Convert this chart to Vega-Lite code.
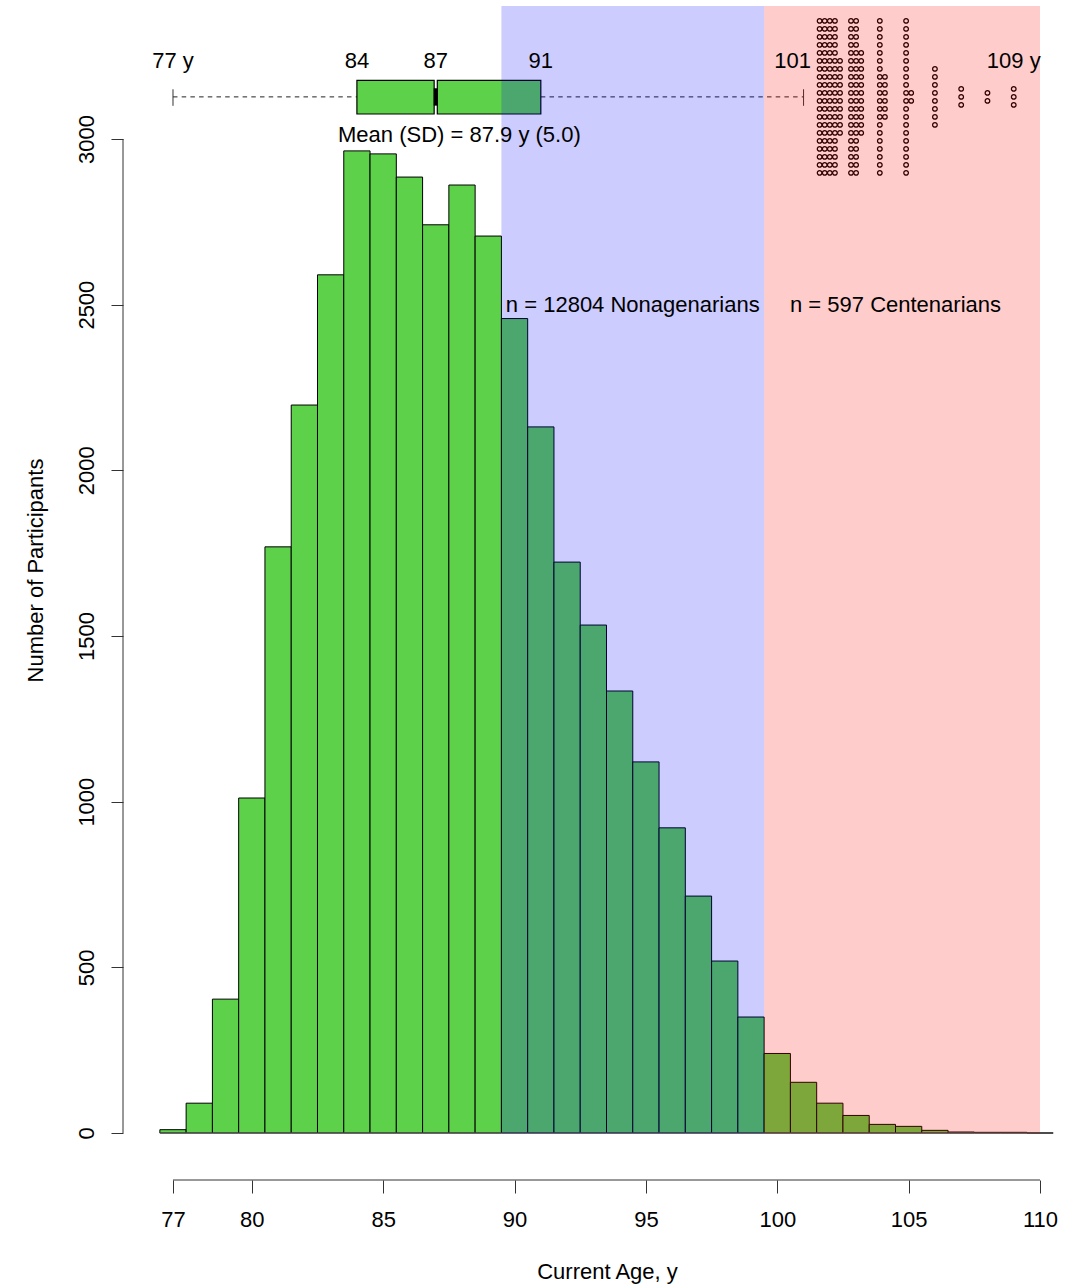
{
  "$schema": "https://vega.github.io/schema/vega-lite/v6.json",
  "width": 937,
  "height": 1174,
  "autosize": {"type": "none"},
  "padding": {"left": 123, "top": 6, "right": 16, "bottom": 105},
  "background": "white",
  "config": {
    "view": {"stroke": null},
    "font": "Liberation Sans",
    "axis": {
      "grid": false,
      "domain": false,
      "labelFont": "Liberation Sans",
      "titleFont": "Liberation Sans",
      "labelFontSize": 22,
      "titleFontSize": 22,
      "titleFontWeight": "normal",
      "labelColor": "#000",
      "titleColor": "#000",
      "tickColor": "#333",
      "tickWidth": 1,
      "labelFlush": false,
      "labelOverlap": false
    },
    "text": {"font": "Liberation Sans", "fontSize": 22, "color": "#000"}
  },
  "datasets": {
    "ages": [
      {"age": 77, "n": 10}, {"age": 78, "n": 90}, {"age": 79, "n": 404},
      {"age": 80, "n": 1011}, {"age": 81, "n": 1769}, {"age": 82, "n": 2197},
      {"age": 83, "n": 2590}, {"age": 84, "n": 2964}, {"age": 85, "n": 2955},
      {"age": 86, "n": 2885}, {"age": 87, "n": 2741}, {"age": 88, "n": 2861},
      {"age": 89, "n": 2707}, {"age": 90, "n": 2458}, {"age": 91, "n": 2131},
      {"age": 92, "n": 1723}, {"age": 93, "n": 1533}, {"age": 94, "n": 1334},
      {"age": 95, "n": 1120}, {"age": 96, "n": 921}, {"age": 97, "n": 715},
      {"age": 98, "n": 519}, {"age": 99, "n": 350}, {"age": 100, "n": 240},
      {"age": 101, "n": 153}, {"age": 102, "n": 90}, {"age": 103, "n": 53},
      {"age": 104, "n": 26}, {"age": 105, "n": 20}, {"age": 106, "n": 8},
      {"age": 107, "n": 3}, {"age": 108, "n": 2}, {"age": 109, "n": 2},
      {"age": 110, "n": 0}
    ],
    "stats": [
      {"min": 77, "q1": 84, "median": 87, "q3": 91, "max": 101, "conf_lo": 86.94, "conf_hi": 87.06, "mean": 87.9, "sd": 5.0}
    ],
    "groups": [
      {"group": "Nonagenarians", "from": 89.5, "to": 99.5, "n": 12804},
      {"group": "Centenarians", "from": 99.5, "to": 110, "n": 597}
    ],
    "labels": [
      {"at": 77, "label": "77 y"}, {"at": 84, "label": "84"}, {"at": 87, "label": "87"},
      {"at": 91, "label": "91"}, {"at": 101, "label": "101"}, {"at": 109, "label": "109 y"}
    ],
    "outliers": [
      {"age": 102, "j": -9.5, "c": [-2, -1, 0, 1]},
      {"age": 102, "j": -8.5, "c": [-2, -1, 0, 1]},
      {"age": 102, "j": -7.5, "c": [-2, -1, 0, 1]},
      {"age": 102, "j": -6.5, "c": [-2, -1, 0, 1]},
      {"age": 102, "j": -5.5, "c": [-2, -1, 0, 1]},
      {"age": 102, "j": -4.5, "c": [-2, -1, 0, 1, 2]},
      {"age": 102, "j": -3.5, "c": [-2, -1, 0, 1, 2]},
      {"age": 102, "j": -2.5, "c": [-2, -1, 0, 1, 2]},
      {"age": 102, "j": -1.5, "c": [-2, -1, 0, 1, 2]},
      {"age": 102, "j": -0.5, "c": [-2, -1, 0, 1, 2]},
      {"age": 102, "j": 0.5, "c": [-2, -1, 0, 1, 2]},
      {"age": 102, "j": 1.5, "c": [-2, -1, 0, 1, 2]},
      {"age": 102, "j": 2.5, "c": [-2, -1, 0, 1, 2]},
      {"age": 102, "j": 3.5, "c": [-2, -1, 0, 1, 2]},
      {"age": 102, "j": 4.5, "c": [-2, -1, 0, 1, 2]},
      {"age": 102, "j": 5.5, "c": [-2, -1, 0, 1]},
      {"age": 102, "j": 6.5, "c": [-2, -1, 0, 1]},
      {"age": 102, "j": 7.5, "c": [-2, -1, 0, 1]},
      {"age": 102, "j": 8.5, "c": [-2, -1, 0, 1]},
      {"age": 102, "j": 9.5, "c": [-2, -1, 0, 1]},
      {"age": 103, "j": -9.5, "c": [-1, 0]},
      {"age": 103, "j": -8.5, "c": [-1, 0]},
      {"age": 103, "j": -7.5, "c": [-1, 0]},
      {"age": 103, "j": -6.5, "c": [-1, 0]},
      {"age": 103, "j": -5.5, "c": [-1, 0, 1]},
      {"age": 103, "j": -4.5, "c": [-1, 0, 1]},
      {"age": 103, "j": -3.5, "c": [-1, 0, 1]},
      {"age": 103, "j": -2.5, "c": [-1, 0, 1]},
      {"age": 103, "j": -1.5, "c": [-1, 0, 1]},
      {"age": 103, "j": -0.5, "c": [-1, 0, 1]},
      {"age": 103, "j": 0.5, "c": [-1, 0, 1]},
      {"age": 103, "j": 1.5, "c": [-1, 0, 1]},
      {"age": 103, "j": 2.5, "c": [-1, 0, 1]},
      {"age": 103, "j": 3.5, "c": [-1, 0, 1]},
      {"age": 103, "j": 4.5, "c": [-1, 0, 1]},
      {"age": 103, "j": 5.5, "c": [-1, 0]},
      {"age": 103, "j": 6.5, "c": [-1, 0]},
      {"age": 103, "j": 7.5, "c": [-1, 0]},
      {"age": 103, "j": 8.5, "c": [-1, 0]},
      {"age": 103, "j": 9.5, "c": [-1, 0]},
      {"age": 104, "j": -9.5, "c": [-0.5]},
      {"age": 104, "j": -8.5, "c": [-0.5]},
      {"age": 104, "j": -7.5, "c": [-0.5]},
      {"age": 104, "j": -6.5, "c": [-0.5]},
      {"age": 104, "j": -5.5, "c": [-0.5]},
      {"age": 104, "j": -4.5, "c": [-0.5]},
      {"age": 104, "j": -3.5, "c": [-0.5]},
      {"age": 104, "j": -2.5, "c": [-0.5, 0.5]},
      {"age": 104, "j": -1.5, "c": [-0.5, 0.5]},
      {"age": 104, "j": -0.5, "c": [-0.5, 0.5]},
      {"age": 104, "j": 0.5, "c": [-0.5, 0.5]},
      {"age": 104, "j": 1.5, "c": [-0.5, 0.5]},
      {"age": 104, "j": 2.5, "c": [-0.5, 0.5]},
      {"age": 104, "j": 3.5, "c": [-0.5]},
      {"age": 104, "j": 4.5, "c": [-0.5]},
      {"age": 104, "j": 5.5, "c": [-0.5]},
      {"age": 104, "j": 6.5, "c": [-0.5]},
      {"age": 104, "j": 7.5, "c": [-0.5]},
      {"age": 104, "j": 8.5, "c": [-0.5]},
      {"age": 104, "j": 9.5, "c": [-0.5]},
      {"age": 105, "j": -9.5, "c": [-0.5]},
      {"age": 105, "j": -8.5, "c": [-0.5]},
      {"age": 105, "j": -7.5, "c": [-0.5]},
      {"age": 105, "j": -6.5, "c": [-0.5]},
      {"age": 105, "j": -5.5, "c": [-0.5]},
      {"age": 105, "j": -4.5, "c": [-0.5]},
      {"age": 105, "j": -3.5, "c": [-0.5]},
      {"age": 105, "j": -2.5, "c": [-0.5]},
      {"age": 105, "j": -1.5, "c": [-0.5]},
      {"age": 105, "j": -0.5, "c": [-0.5, 0.5]},
      {"age": 105, "j": 0.5, "c": [-0.5, 0.5]},
      {"age": 105, "j": 1.5, "c": [-0.5]},
      {"age": 105, "j": 2.5, "c": [-0.5]},
      {"age": 105, "j": 3.5, "c": [-0.5]},
      {"age": 105, "j": 4.5, "c": [-0.5]},
      {"age": 105, "j": 5.5, "c": [-0.5]},
      {"age": 105, "j": 6.5, "c": [-0.5]},
      {"age": 105, "j": 7.5, "c": [-0.5]},
      {"age": 105, "j": 8.5, "c": [-0.5]},
      {"age": 105, "j": 9.5, "c": [-0.5]},
      {"age": 106, "j": -3.5, "c": [0]},
      {"age": 106, "j": -2.5, "c": [0]},
      {"age": 106, "j": -1.5, "c": [0]},
      {"age": 106, "j": -0.5, "c": [0]},
      {"age": 106, "j": 0.5, "c": [0]},
      {"age": 106, "j": 1.5, "c": [0]},
      {"age": 106, "j": 2.5, "c": [0]},
      {"age": 106, "j": 3.5, "c": [0]},
      {"age": 107, "j": -1, "c": [0]},
      {"age": 107, "j": 0, "c": [0]},
      {"age": 107, "j": 1, "c": [0]},
      {"age": 108, "j": -0.5, "c": [0]},
      {"age": 108, "j": 0.5, "c": [0]},
      {"age": 109, "j": -1, "c": [0]},
      {"age": 109, "j": 0, "c": [0]},
      {"age": 109, "j": 1, "c": [0]}
    ]
  },
  "layer": [
    {
      "data": {"name": "ages"},
      "transform": [
        {"bin": {"extent": [76.5, 110.5], "step": 1, "nice": false}, "field": "age", "as": ["lo", "hi"]}
      ],
      "mark": {"type": "bar", "fill": "#5ed14a", "stroke": "#000", "strokeWidth": 1},
      "encoding": {
        "x": {
          "field": "lo",
          "type": "quantitative",
          "scale": {"domain": [75.097, 110.761], "nice": false, "zero": false},
          "axis": {
            "values": [77, 80, 85, 90, 95, 100, 105, 110],
            "tickSize": 13,
            "labelPadding": 16,
            "title": "Current Age, y",
            "titleX": 484,
            "titleY": 91,
            "titleAlign": "center",
            "titleBaseline": "middle"
          }
        },
        "x2": {"field": "hi"},
        "y": {
          "field": "n",
          "type": "quantitative",
          "scale": {"domain": [-141.85, 3401.3], "nice": false, "zero": false},
          "axis": {
            "values": [0, 500, 1000, 1500, 2000, 2500, 3000],
            "format": "d",
            "tickSize": 12,
            "labelAngle": -90,
            "labelAlign": "center",
            "labelBaseline": "bottom",
            "labelPadding": 13,
            "title": "Number of Participants",
            "titleAngle": -90,
            "titleX": -88,
            "titleY": 564,
            "titleAlign": "center",
            "titleBaseline": "middle"
          }
        },
        "y2": {"datum": 0}
      }
    },
    {
      "data": {"name": "ages"},
      "transform": [
        {"bin": {"extent": [76.5, 110.5], "step": 1, "nice": false}, "field": "age", "as": ["lo", "hi"]}
      ],
      "mark": {"type": "rule", "color": "#555", "strokeWidth": 1.2},
      "encoding": {
        "x": {"field": "lo", "type": "quantitative"},
        "x2": {"field": "hi"},
        "y": {"datum": 0}
      }
    },
    {
      "data": {"name": "stats"},
      "layer": [
        {
          "mark": {"type": "rule", "color": "#333", "strokeWidth": 1},
          "encoding": {"x": {"datum": 75.097}, "y": {"datum": 0}, "y2": {"datum": 3000}}
        },
        {
          "mark": {"type": "rule", "color": "#333", "strokeWidth": 1},
          "encoding": {"x": {"datum": 77}, "x2": {"datum": 110}, "y": {"datum": -141.85}}
        },
        {
          "mark": {"type": "rule", "color": "#222", "strokeWidth": 1, "strokeDash": [4.5, 4.2]},
          "encoding": {"x": {"field": "min", "type": "quantitative"}, "x2": {"field": "q1"}, "y": {"datum": 3127}}
        },
        {
          "mark": {"type": "rule", "color": "#222", "strokeWidth": 1, "strokeDash": [4.5, 4.2]},
          "encoding": {"x": {"field": "q3", "type": "quantitative"}, "x2": {"field": "max"}, "y": {"datum": 3127}}
        },
        {
          "mark": {"type": "rule", "color": "#333", "strokeWidth": 1},
          "encoding": {"x": {"field": "min", "type": "quantitative"}, "y": {"datum": 3150}, "y2": {"datum": 3100}}
        },
        {
          "mark": {"type": "rule", "color": "#333", "strokeWidth": 1},
          "encoding": {"x": {"field": "max", "type": "quantitative"}, "y": {"datum": 3150}, "y2": {"datum": 3100}}
        },
        {
          "mark": {"type": "rect", "fill": "#5ed14a", "stroke": "#000", "strokeWidth": 1.2},
          "encoding": {"x": {"field": "q1", "type": "quantitative"}, "x2": {"field": "conf_lo"}, "y": {"datum": 3177}, "y2": {"datum": 3075.4}}
        },
        {
          "mark": {"type": "rect", "fill": "#5ed14a", "stroke": "#000", "strokeWidth": 1.2},
          "encoding": {"x": {"field": "conf_hi", "type": "quantitative"}, "x2": {"field": "q3"}, "y": {"datum": 3177}, "y2": {"datum": 3075.4}}
        },
        {
          "mark": {"type": "rule", "color": "#000", "strokeWidth": 4},
          "encoding": {"x": {"field": "median", "type": "quantitative"}, "y": {"datum": 3153}, "y2": {"datum": 3100.6}}
        }
      ]
    },
    {
      "data": {"name": "outliers"},
      "transform": [
        {"flatten": ["c"]},
        {"calculate": "datum.age + datum.c * 0.194", "as": "ox"},
        {"calculate": "3127 - datum.j * 24.14", "as": "oy"}
      ],
      "mark": {"type": "point", "shape": "circle", "filled": false, "stroke": "#000", "strokeWidth": 1.3, "size": 21, "opacity": 1},
      "encoding": {
        "x": {"field": "ox", "type": "quantitative"},
        "y": {"field": "oy", "type": "quantitative"}
      }
    },
    {
      "data": {"name": "groups"},
      "mark": {"type": "rect", "fillOpacity": 0.2, "strokeWidth": 0},
      "encoding": {
        "x": {"field": "from", "type": "quantitative"},
        "x2": {"field": "to"},
        "y": {"datum": 0},
        "y2": {"datum": 3401.3},
        "fill": {
          "field": "group",
          "type": "nominal",
          "scale": {"domain": ["Nonagenarians", "Centenarians"], "range": ["#0000ff", "#ff0000"]},
          "legend": null
        }
      }
    },
    {
      "data": {"name": "groups"},
      "transform": [
        {"calculate": "'n = ' + datum.n + ' ' + datum.group", "as": "label"},
        {"calculate": "datum.from + 5", "as": "mid"}
      ],
      "mark": {"type": "text", "align": "center", "baseline": "middle"},
      "encoding": {
        "x": {"field": "mid", "type": "quantitative"},
        "y": {"datum": 2500},
        "text": {"field": "label"}
      }
    },
    {
      "data": {"name": "stats"},
      "transform": [
        {"calculate": "'Mean (SD) = ' + format(datum.mean, '.1f') + ' y (' + format(datum.sd, '.1f') + ')'", "as": "label"}
      ],
      "mark": {"type": "text", "align": "center", "baseline": "middle"},
      "encoding": {
        "x": {"field": "mean", "type": "quantitative"},
        "y": {"datum": 3012.7},
        "text": {"field": "label"}
      }
    },
    {
      "data": {"name": "labels"},
      "transform": [{"filter": "datum.at != 101"}],
      "mark": {"type": "text", "align": "center", "baseline": "middle"},
      "encoding": {
        "x": {"field": "at", "type": "quantitative"},
        "y": {"datum": 3235.4},
        "text": {"field": "label"}
      }
    },
    {
      "data": {"name": "labels"},
      "transform": [{"filter": "datum.at == 101"}],
      "mark": {"type": "text", "align": "center", "baseline": "middle", "dx": -11},
      "encoding": {
        "x": {"field": "at", "type": "quantitative"},
        "y": {"datum": 3235.4},
        "text": {"field": "label"}
      }
    }
  ]
}
